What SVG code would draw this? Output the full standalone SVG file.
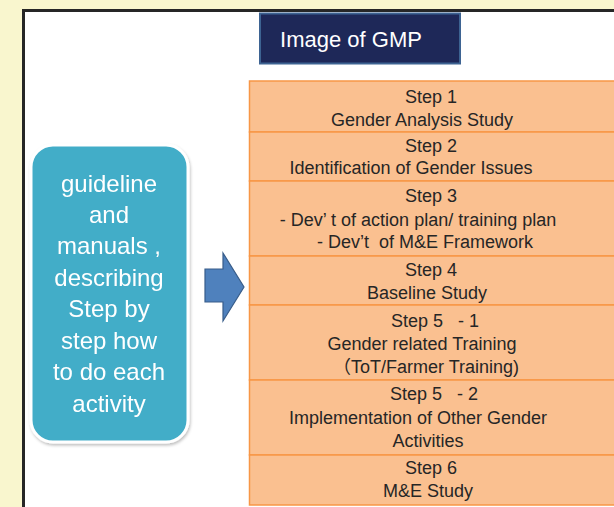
<svg xmlns="http://www.w3.org/2000/svg" width="614" height="507" viewBox="0 0 614 507">
<defs>
<filter id="sh" x="-10%" y="-10%" width="130%" height="130%">
<feGaussianBlur in="SourceAlpha" stdDeviation="1.5"/>
<feOffset dx="1" dy="2" result="b"/>
<feFlood flood-color="#000" flood-opacity="0.25"/>
<feComposite in2="b" operator="in"/>
<feMerge><feMergeNode/><feMergeNode in="SourceGraphic"/></feMerge>
</filter>
</defs>
<style>
.step{fill:#FAC090;stroke:#F79646;stroke-width:1.5}
.st{font-family:"Liberation Sans",Arial,"Noto Sans CJK JP",sans-serif;font-size:18px;fill:#262626;text-anchor:middle}
.gt{font-family:"Liberation Sans",Arial,sans-serif;font-size:24px;fill:#ffffff;text-anchor:middle}
.tt{font-family:"Liberation Sans",Arial,sans-serif;font-size:22px;fill:#ffffff;text-anchor:middle}
</style>
<rect x="0" y="0" width="614" height="507" fill="#F9F6CE"/>
<rect x="23.5" y="10.5" width="610" height="510" fill="#ffffff" stroke="#262626" stroke-width="3"/>

<g id="title">
<rect x="260" y="13.5" width="200" height="50" fill="#1E2858" stroke="#3D6392" stroke-width="2"/>
<text class="tt" x="351" y="47">Image of GMP</text>
</g>

<g id="guide" filter="url(#sh)">
<rect x="31" y="145" width="157" height="297" rx="22" ry="22" fill="#42ADC8" stroke="#ffffff" stroke-width="3"/>
<text class="gt" x="109" y="191.5">guideline</text>
<text class="gt" x="109" y="222.5">and</text>
<text class="gt" x="109" y="254">manuals ,</text>
<text class="gt" x="109" y="285.5">describing</text>
<text class="gt" x="109" y="317">Step by</text>
<text class="gt" x="109" y="348.5">step how</text>
<text class="gt" x="109" y="380">to do each</text>
<text class="gt" x="109" y="411.5">activity</text>
</g>

<g id="step1">
<rect class="step" x="249.5" y="81" width="380" height="51"/>
<text class="st" x="431" y="103">Step 1</text>
<text class="st" x="422" y="126">Gender Analysis Study</text>
</g>
<g id="step2">
<rect class="step" x="249.5" y="132" width="380" height="49"/>
<text class="st" x="431" y="152">Step 2</text>
<text class="st" x="411" y="174">Identification of Gender Issues</text>
</g>
<g id="step3">
<rect class="step" x="249.5" y="181" width="380" height="75"/>
<text class="st" x="431" y="202">Step 3</text>
<text class="st" x="418" y="225.5">- Dev’ t of action plan/ training plan</text>
<text class="st" x="425" y="248" xml:space="preserve">- Dev’t  of M&amp;E Framework</text>
</g>
<g id="step4">
<rect class="step" x="249.5" y="256" width="380" height="49"/>
<text class="st" x="431" y="276">Step 4</text>
<text class="st" x="427" y="299">Baseline Study</text>
</g>
<g id="step5-1">
<rect class="step" x="249.5" y="305" width="380" height="75"/>
<text class="st" x="435" y="326.5" xml:space="preserve">Step 5   - 1</text>
<text class="st" x="422" y="350">Gender related Training</text>
<text class="st" x="426" y="373">（ToT/Farmer Training)</text>
</g>
<g id="step5-2">
<rect class="step" x="249.5" y="380" width="380" height="75"/>
<text class="st" x="434" y="400" xml:space="preserve">Step 5   - 2</text>
<text class="st" x="418" y="424">Implementation of Other Gender</text>
<text class="st" x="428" y="446.5">Activities</text>
</g>
<g id="step6">
<rect class="step" x="249.5" y="455" width="380" height="50"/>
<text class="st" x="431" y="474">Step 6</text>
<text class="st" x="428" y="497">M&amp;E Study</text>
</g>

<g id="connectors">
<polygon points="205,269 223,269 223,253 244,287 223,321 223,302 205,302" fill="#4F81BD" stroke="#385D8A" stroke-width="1.2"/>
</g>
</svg>
